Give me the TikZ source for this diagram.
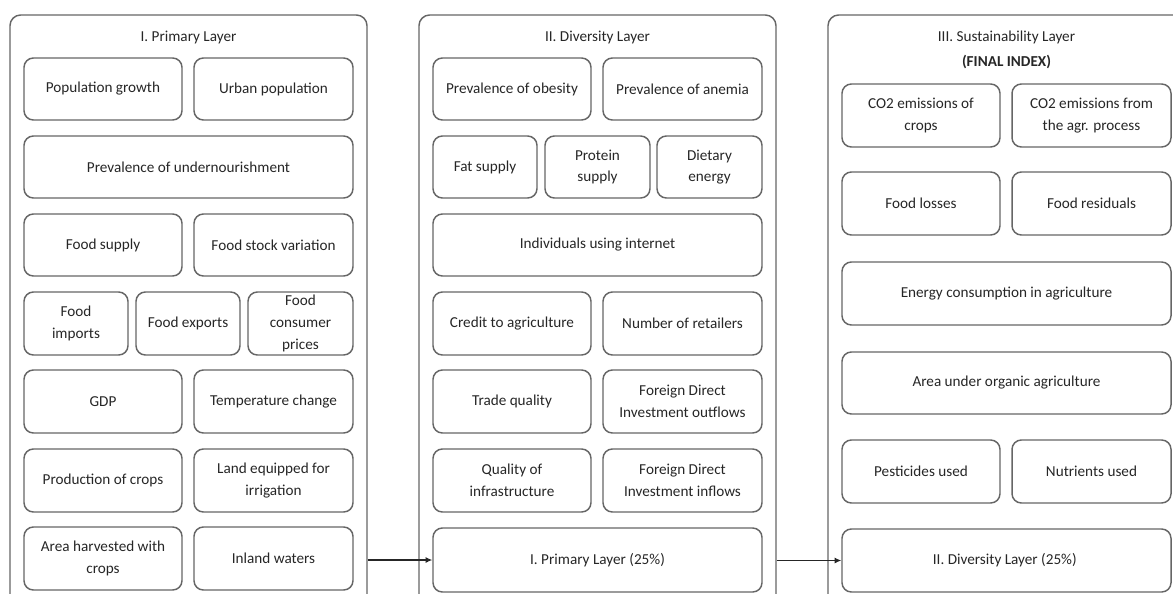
\documentclass[tikz,border=0pt]{standalone}
\usepackage{fontspec}
\setmainfont{Carlito}
\usetikzlibrary{arrows.meta}
\tikzset{
  boxfont/.style={font=\fontsize{11.4}{16.3}\selectfont},
  layerbox/.style={draw=black!60, line width=1.1pt, rounded corners=8pt},
  layertitle/.style={boxfont, align=center, text=black!85},
  cell/.style={boxfont, draw=black!60, line width=1.1pt, rounded corners=7pt,
               align=center, text=black!85, inner sep=1pt},
  feed/.style={-{Latex[length=5pt,width=4.5pt]}, line width=0.8pt, black!85},
  declare function={
    px=0.75;
  }
}

\begin{document}
\begin{tikzpicture}[
  x=0.75pt,
  y=-0.75pt,
]

\clip (0,0) rectangle (1173,593);

\foreach \n/\x in {lay1/10, lay2/419, lay3/828}
  {
   \node [layerbox,
          minimum width=357*px*1pt,
          minimum height=590*px*1pt] (\n) at (\x+178.5,310) {};
  }

\node [layertitle] (title1) at (188.5,37) {I. Primary Layer};
\node [layertitle] (title2) at (597.5,37) {II. Diversity Layer};
\node [layertitle] (title3) at (1006.5,49.5)
      {III. Sustainability Layer\\[2.5pt]\textbf{(FINAL INDEX)}};

\foreach \n/\x/\y/\w/\h/\t in
                  {pop/24/58/158/62/{Population growth},
                   urb/194/58/159/62/{Urban population},
                   und/24/136/329/62/{Prevalence of undernourishment},
                   fsup/24/214/158/62/{Food supply},
                   fstock/194/214/159/62/{Food stock variation},
                   fimp/24/292/104/63/{Food\\imports},
                   fexp/136/292/104/63/{Food exports},
                   fcp/248/292/105/63/{Food\\consumer\\prices},
                   gdp/24/370/158/63/{GDP},
                   temp/194/370/159/63/{Temperature change},
                   prod/24/449/158/63/{Production of crops},
                   land/194/449/159/63/{Land equipped for\\irrigation},
                   harv/24/527/158/63/{Area harvested with\\crops},
                   inl/194/527/159/63/{Inland waters},
                   obes/433/58/158/62/{Prevalence of obesity},
                   anem/603/58/159/62/{Prevalence of anemia},
                   fat/433/136/104/62/{Fat supply},
                   prot/545/136/105/62/{Protein\\supply},
                   diet/657/136/105/62/{Dietary\\energy},
                   inet/433/214/329/62/{Individuals using internet},
                   cred/433/292/158/63/{Credit to agriculture},
                   retl/603/292/159/63/{Number of retailers},
                   trade/433/370/158/63/{Trade quality},
                   fdio/603/370/159/63/{Foreign Direct\\Investment outflows},
                   qinf/433/449/158/63/{Quality of\\infrastructure},
                   fdii/603/449/159/63/{Foreign Direct\\Investment inflows},
                   prim/433/528/329/64/{I. Primary Layer (25\%)},
                   co2c/842/84/158/63/{CO2 emissions of\\crops},
                   co2p/1012/84/159/63/{CO2 emissions from\\the agr. process},
                   loss/842/172/158/63/{Food losses},
                   resid/1012/172/159/63/{Food residuals},
                   enrg/842/262/329/63/{Energy consumption in agriculture},
                   orgn/842/352/329/62/{Area under organic agriculture},
                   pest/842/440/158/63/{Pesticides used},
                   nutr/1012/440/159/63/{Nutrients used},
                   dive/842/529/329/63/{II. Diversity Layer (25\%)}
                   }
  {
   \node [cell,
          minimum width=\w*px*1pt,
          minimum height=\h*px*1pt] (\n) at (\x+\w/2,\y+\h/2) {\t};
  }

\draw [feed] (lay1.east |- prim.west) -- (prim.west);
\draw [feed] (lay2.east |- dive.west) -- (dive.west);

\end{tikzpicture}
\end{document}
